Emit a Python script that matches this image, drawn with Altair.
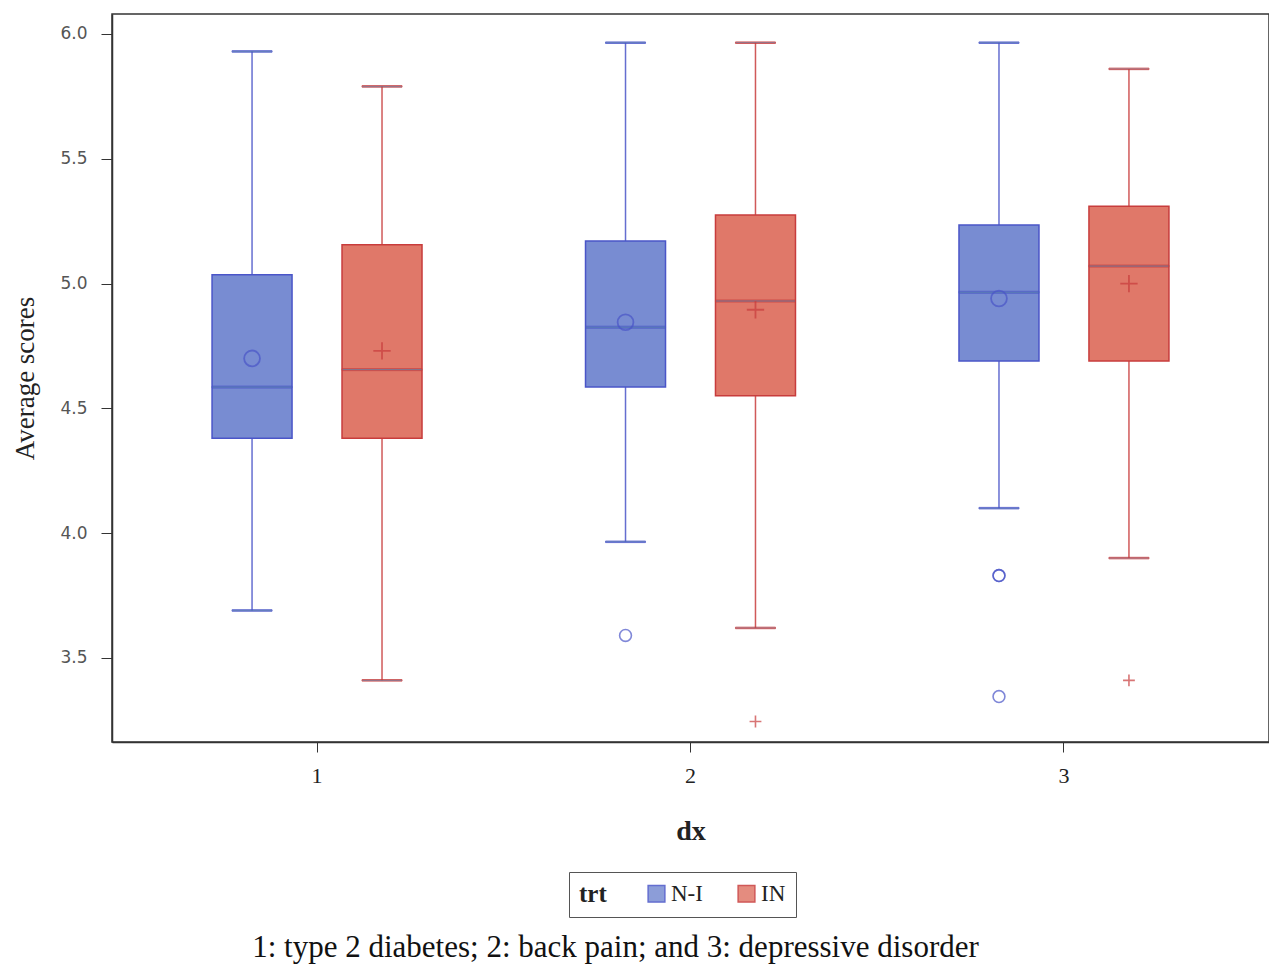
import altair as alt
import pandas as pd

# --- data ---
dx = ["1", "1", "2", "2", "3", "3"]
trt = ["N-I", "IN", "N-I", "IN", "N-I", "IN"]
whisker_low = [3.69, 3.41, 3.965, 3.62, 4.10, 3.90]
q1 = [4.38, 4.38, 4.585, 4.55, 4.69, 4.69]
median = [4.585, 4.655, 4.825, 4.93, 4.965, 5.07]
q3 = [5.035, 5.155, 5.17, 5.275, 5.235, 5.31]
whisker_high = [5.93, 5.79, 5.965, 5.965, 5.965, 5.86]
mean = [4.70, 4.73, 4.845, 4.895, 4.94, 5.00]

out_dx = ["2", "2", "3", "3", "3", "3"]
out_trt = ["N-I", "IN", "N-I", "N-I", "N-I", "IN"]
out_val = [3.59, 3.245, 3.83, 3.83, 3.345, 3.41]

trt_domain = ["N-I", "IN"]
fill_colors = ["#788cd2", "#e07869"]
stroke_colors = ["#4a55c8", "#c83c3c"]
plus_path = "M-1,0L1,0M0,-1L0,1"

caption = "1: type 2 diabetes; 2: back pain; and 3: depressive disorder"

stats = pd.DataFrame({
    "dx": dx, "trt": trt, "low": whisker_low, "q1": q1, "median": median,
    "q3": q3, "high": whisker_high, "mean": mean,
})
outl = pd.DataFrame({"dx": out_dx, "trt": out_trt, "value": out_val})

SERIF = "Liberation Serif"
SANS = "DejaVu Sans"

x_enc = alt.X(
    "dx:N",
    scale=alt.Scale(paddingInner=0.304, paddingOuter=0.201),
    axis=alt.Axis(
        title="dx", labelAngle=0, labelFont=SERIF, labelFontSize=22,
        labelColor="#222", titleFont=SERIF, titleFontSize=28,
        titleFontWeight="bold", titleColor="#222", tickSize=10,
        tickColor="#333", labelPadding=13, titlePadding=31,
        domainColor="#333", domainWidth=1.5,
    ),
)
xo_enc = alt.XOffset(
    "trt:N", scale=alt.Scale(domain=trt_domain, paddingInner=0, paddingOuter=0)
)
y_scale = alt.Scale(domain=[3.163, 6.08], nice=False, zero=False)
y_axis = alt.Axis(
    title="Average scores", values=[3.5, 4.0, 4.5, 5.0, 5.5, 6.0], format=".1f",
    labelFont=SANS, labelFontSize=17, labelColor="#555", titleFont=SERIF,
    titleFontSize=27, titleFontWeight="normal", titleColor="#222",
    tickSize=11, tickColor="#333", labelPadding=14, titlePadding=20,
    domainColor="#333", domainWidth=1.5, grid=False,
)

legend = alt.Legend(
    title="trt", orient="none", legendX=457, legendY=858,
    direction="horizontal", titleOrient="left",
    titleFont=SERIF, titleFontSize=25, titleFontWeight="bold",
    titleColor="#222", titlePadding=38,
    labelFont=SERIF, labelFontSize=23, labelColor="#222",
    symbolType="square", symbolSize=280, symbolStrokeWidth=1.5,
    columnPadding=32, labelOffset=3,
    strokeColor="#555", padding=10, fillColor="white",
)

stroke_enc = alt.Stroke(
    "trt:N", scale=alt.Scale(domain=trt_domain, range=stroke_colors), legend=legend
)
fill_enc = alt.Fill(
    "trt:N", scale=alt.Scale(domain=trt_domain, range=fill_colors), legend=legend
)

base = alt.Chart(stats)
is_ni = alt.datum.trt == trt_domain[0]
is_in = alt.datum.trt == trt_domain[1]

whiskers = base.mark_rule(strokeWidth=1.5, opacity=0.85).encode(
    x=x_enc, xOffset=xo_enc,
    y=alt.Y("low:Q", scale=y_scale, axis=y_axis), y2="high:Q",
    stroke=stroke_enc,
)
cap_low = base.mark_tick(orient="horizontal", size=40, thickness=1.5, opacity=0.85).encode(
    x=x_enc, xOffset=xo_enc, y="low:Q", stroke=stroke_enc,
)
cap_high = base.mark_tick(orient="horizontal", size=40, thickness=1.5, opacity=0.85).encode(
    x=x_enc, xOffset=xo_enc, y="high:Q", stroke=stroke_enc,
)
boxes = base.mark_bar(size=80, strokeWidth=1.5).encode(
    x=x_enc, xOffset=xo_enc, y="q1:Q", y2="q3:Q",
    fill=fill_enc,
    stroke=stroke_enc,
)
medians = base.mark_tick(orient="horizontal", size=80, thickness=2).encode(
    x=x_enc, xOffset=xo_enc, y="median:Q", stroke=stroke_enc,
)
means_ni = base.transform_filter(is_ni).mark_point(
    filled=False, strokeWidth=1.8, shape="circle", size=250
).encode(x=x_enc, xOffset=xo_enc, y="mean:Q", stroke=stroke_enc)
means_in = base.transform_filter(is_in).mark_point(
    filled=False, strokeWidth=1.8, shape=plus_path, size=300
).encode(x=x_enc, xOffset=xo_enc, y="mean:Q", stroke=stroke_enc)

obase = alt.Chart(outl)
out_ni = obase.transform_filter(is_ni).mark_point(
    filled=False, strokeWidth=1.6, shape="circle", size=140
).encode(x=x_enc, xOffset=xo_enc, y="value:Q", stroke=stroke_enc)
out_in = obase.transform_filter(is_in).mark_point(
    filled=False, strokeWidth=1.6, shape=plus_path, size=140
).encode(x=x_enc, xOffset=xo_enc, y="value:Q", stroke=stroke_enc)

chart = (
    alt.layer(whiskers, cap_low, cap_high, boxes, medians, means_ni, means_in, out_ni, out_in)
    .properties(
        width=1157, height=728,
        title=alt.TitleParams(
            caption, orient="bottom", anchor="middle", font=SERIF,
            fontSize=31, fontWeight="normal", color="#111", offset=15, dx=-75,
        ),
        padding={"left": 3, "top": 6, "right": 0, "bottom": 5},
    )
    .configure_view(stroke="#333", strokeWidth=1.5)
)

chart.save("out.html", embed_options={"renderer": "svg", "actions": False})
